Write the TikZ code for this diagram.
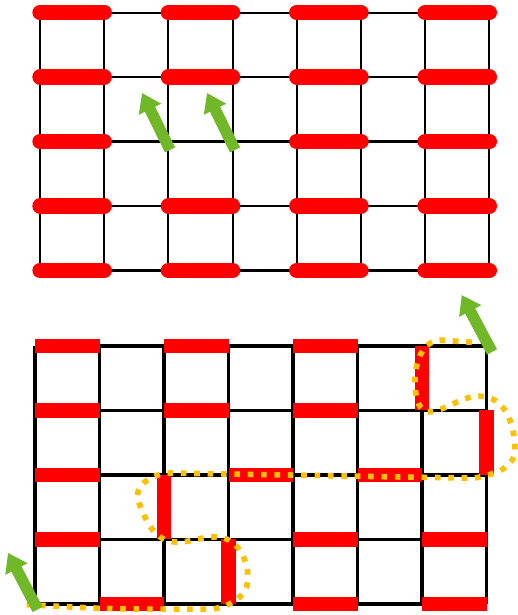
\documentclass[tikz,border=0pt]{standalone}
\usepackage{tikz}
\usetikzlibrary{arrows.meta}
\definecolor{barred}{RGB}{255,0,0}
\definecolor{flipgreen}{RGB}{112,184,40}
\definecolor{loopgold}{RGB}{255,192,0}

\begin{document}
\begin{tikzpicture}[
    redbar/.style={barred,line width=6.8pt,line cap=round},
    flatbar/.style={barred,line width=6.4pt},
    flip/.style={flipgreen,line width=5pt,-{Triangle[width=10.5pt,length=8pt]}},
    stringloop/.style={loopgold,line width=2.5pt,dash pattern=on 2.5pt off 3.4pt}
  ]
    \useasboundingbox (-0.543,-0.171) rectangle (7.488,9.364);

    \begin{scope}[shift={(0.078,5.17)},xscale=0.995]
    \draw[step=1cm,black,line width=0.9pt] (0,0) grid (7,4);
    \draw[redbar] (0,4) -- (1,4);
    \draw[redbar] (2,4) -- (3,4);
    \draw[redbar] (4,4) -- (5,4);
    \draw[redbar] (6,4) -- (7,4);
    \draw[redbar] (0,3) -- (1,3);
    \draw[redbar] (2,3) -- (3,3);
    \draw[redbar] (4,3) -- (5,3);
    \draw[redbar] (6,3) -- (7,3);
    \draw[redbar] (0,2) -- (1,2);
    \draw[redbar] (4,2) -- (5,2);
    \draw[redbar] (6,2) -- (7,2);
    \draw[redbar] (0,1) -- (1,1);
    \draw[redbar] (2,1) -- (3,1);
    \draw[redbar] (4,1) -- (5,1);
    \draw[redbar] (6,1) -- (7,1);
    \draw[redbar] (0,0) -- (1,0);
    \draw[redbar] (2,0) -- (3,0);
    \draw[redbar] (4,0) -- (5,0);
    \draw[redbar] (6,0) -- (7,0);
    \end{scope}

    \draw[flip] (2.093,7.039) -- (1.659,7.922);
    \draw[flip] (3.101,7.039) -- (2.667,7.922);

    \draw[step=1cm,black,line width=1.45pt] (0,0) grid (7,4);
    \draw[flatbar] (0,4) -- (1,4);
    \draw[flatbar] (2,4) -- (3,4);
    \draw[flatbar] (4,4) -- (5,4);
    \draw[flatbar] (6,4) -- (6,3);
    \draw[flatbar] (0,3) -- (1,3);
    \draw[flatbar] (2,3) -- (3,3);
    \draw[flatbar] (4,3) -- (5,3);
    \draw[flatbar] (7,3) -- (7,2);
    \draw[flatbar] (0,2) -- (1,2);
    \draw[flatbar] (3,2) -- (4,2);
    \draw[flatbar] (5,2) -- (6,2);
    \draw[flatbar] (2,2) -- (2,1);
    \draw[flatbar] (0,1) -- (1,1);
    \draw[flatbar] (4,1) -- (5,1);
    \draw[flatbar] (6,1) -- (7,1);
    \draw[flatbar] (3,1) -- (3,0);
    \draw[flatbar] (1,0) -- (2,0);
    \draw[flatbar] (4,0) -- (5,0);
    \draw[flatbar] (6,0) -- (7,0);

    \draw[stringloop] (-0.13,-0.01) to[out=-3,in=180] (1.8,-0.08) -- (2.75,-0.08)
        to[out=10,in=-90] (3.3,0.4) to[out=90,in=0] (2.8,1.04)
        to[out=180,in=0] (2.2,0.96) to[out=180,in=-70] (1.6,1.6)
        to[out=110,in=180] (2.1,2.03) -- (6.8,1.95)
        to[out=10,in=-90] (7.44,2.4) to[out=90,in=0] (6.9,3.22)
        to[out=180,in=10] (6.14,2.98) to[out=190,in=-90] (5.89,3.45)
        to[out=90,in=180] (6.3,4.09) -- (6.88,4.05);

    \draw[flip] (0.04,-0.085) -- (-0.419,0.791);
    \draw[flip] (7.085,3.907) -- (6.615,4.79);
\end{tikzpicture}
\end{document}
